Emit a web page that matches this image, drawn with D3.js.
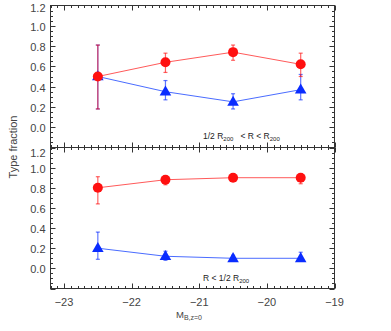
<!DOCTYPE html>
<html><head><meta charset="utf-8">
<script src="https://cdn.jsdelivr.net/npm/d3@7"></script>
<style>body{margin:0;background:#fff}svg{display:block}</style>
</head><body>
<svg id="c" width="391" height="331"></svg>
<script>
const mags = [-22.5, -21.5, -20.5, -19.5];
// outer region: 1/2 R200 < R < R200
const outerRed = [0.50, 0.64, 0.74, 0.62];
const outerRedLo = [0.18, 0.54, 0.66, 0.50];
const outerRedHi = [0.81, 0.73, 0.81, 0.73];
const outerBlue = [0.50, 0.35, 0.25, 0.37];
const outerBlueLo = [0.18, 0.27, 0.18, 0.27];
const outerBlueHi = [0.81, 0.46, 0.33, 0.52];
// inner region: R < 1/2 R200
const innerRed = [0.80, 0.88, 0.90, 0.90];
const innerRedLo = [0.64, 0.83, 0.87, 0.84];
const innerRedHi = [0.91, 0.91, 0.92, 0.92];
const innerBlue = [0.20, 0.12, 0.10, 0.10];
const innerBlueLo = [0.09, 0.08, 0.08, 0.07];
const innerBlueHi = [0.36, 0.17, 0.13, 0.16];
const xTicks = [-23, -22, -21, -20, -19];
const yTicks = [0.0, 0.2, 0.4, 0.6, 0.8, 1.0, 1.2];

const svg = d3.select("#c");
const L = 50.5, R = 334.5, T = 5.5, M = 147.5, B = 288.5;
const axisCol = "#333";
const x = d3.scaleLinear().domain([-23.2, -19]).range([L, R]);
const panels = [
  {top: T, bot: M, red: outerRed, redLo: outerRedLo, redHi: outerRedHi, blue: outerBlue, blueLo: outerBlueLo, blueHi: outerBlueHi, label: "outer"},
  {top: M, bot: B, red: innerRed, redLo: innerRedLo, redHi: innerRedHi, blue: innerBlue, blueLo: innerBlueLo, blueHi: innerBlueHi, label: "inner"}
];
const font = "'Liberation Sans', Arial, sans-serif";

panels.forEach((p, pi) => {
  const y = d3.scaleLinear().domain([-0.2, 1.2]).range([p.bot, p.top]);
  const g = svg.append("g");
  g.append("rect").attr("x", L).attr("y", p.top).attr("width", R - L).attr("height", p.bot - p.top)
    .attr("fill", "none").attr("stroke", axisCol).attr("stroke-width", 1);
  const yMinor = d3.range(-0.2, 1.2001, 0.05);
  yMinor.forEach(v => {
    const major = Math.abs(Math.round(v * 5) - v * 5) < 1e-6;
    const len = major ? 5 : 2.5;
    const yy = Math.round(y(v)) + 0.5;
    g.append("line").attr("x1", L).attr("x2", L + len).attr("y1", yy).attr("y2", yy).attr("stroke", axisCol);
    g.append("line").attr("x1", R).attr("x2", R - len).attr("y1", yy).attr("y2", yy).attr("stroke", axisCol);
  });
  const xMinor = d3.range(-23.2, -18.999, 0.1);
  xMinor.forEach(v => {
    const major = Math.abs(Math.round(v) - v) < 1e-6;
    const len = major ? 5 : 2.5;
    const xx = Math.round(x(v)) + 0.5;
    g.append("line").attr("x1", xx).attr("x2", xx).attr("y1", p.bot).attr("y2", p.bot - len).attr("stroke", axisCol);
    g.append("line").attr("x1", xx).attr("x2", xx).attr("y1", p.top).attr("y2", p.top + len).attr("stroke", axisCol);
  });
  yTicks.forEach(v => {
    let yy = y(v) + 1;
    if (v === 1.2) yy += pi === 0 ? 2 : 5;
    g.append("text").attr("x", L - 5).attr("y", yy).attr("dy", "0.36em").attr("text-anchor", "end")
      .attr("font-family", font).attr("font-size", 11).attr("fill", "#444").text(v.toFixed(1));
  });

  const series = [
    {v: p.blue, lo: p.blueLo, hi: p.blueHi, line: "#4a6cff", col: "#0a2cff", mark: "tri"},
    {v: p.red, lo: p.redLo, hi: p.redHi, line: "#ff5a5a", col: "#ff1010", mark: "circ"}
  ];
  series.forEach(s => {
    mags.forEach((m, i) => {
      const xx = x(m);
      g.append("line").attr("x1", xx).attr("x2", xx).attr("y1", y(s.lo[i])).attr("y2", y(s.hi[i]))
        .attr("stroke", s.col).attr("stroke-opacity", 0.65).attr("stroke-width", 1.2);
      [s.lo[i], s.hi[i]].forEach(e => {
        g.append("line").attr("x1", xx - 2).attr("x2", xx + 2).attr("y1", y(e)).attr("y2", y(e))
          .attr("stroke", s.col).attr("stroke-opacity", 0.65).attr("stroke-width", 1.2);
      });
    });
    g.append("path").datum(s.v).attr("fill", "none").attr("stroke", s.line).attr("stroke-width", 1)
      .attr("d", d3.line().x((d, i) => x(mags[i])).y(d => y(d)));
  });
  mags.forEach((m, i) => {
    g.append("path").attr("d", d3.symbol().type(d3.symbolTriangle).size(58)())
      .attr("transform", `translate(${x(m)},${y(p.blue[i]) + 0.5})`).attr("fill", "#0a2cff");
  });
  mags.forEach((m, i) => {
    g.append("circle").attr("cx", x(m)).attr("cy", y(p.red[i])).attr("r", 5).attr("fill", "#ff1010");
  });

  const t = g.append("text").attr("font-family", font).attr("font-size", 8.5).attr("fill", "#222");
  if (p.label === "outer") {
    t.attr("x", 203).attr("y", 139);
    t.append("tspan").text("1/2 R");
    t.append("tspan").attr("font-size", 6).attr("dy", 2).text("200");
    t.append("tspan").attr("dy", -2).text("\u00a0\u00a0\u00a0< R < R");
    t.append("tspan").attr("font-size", 6).attr("dy", 2).text("200");
  } else {
    t.attr("x", 203).attr("y", 280.5);
    t.append("tspan").text("R < 1/2 R");
    t.append("tspan").attr("font-size", 6).attr("dy", 2).text("200");
  }
});

xTicks.forEach(v => {
  svg.append("text").attr("x", x(v)).attr("y", 306).attr("text-anchor", "middle")
    .attr("font-family", font).attr("font-size", 11).attr("fill", "#444").text("\u2212" + Math.abs(v));
});
const xt = svg.append("text").attr("x", 176).attr("y", 318).attr("font-family", font).attr("font-size", 9.5).attr("fill", "#444");
xt.append("tspan").text("M");
xt.append("tspan").attr("font-size", 7).attr("dy", 2).text("B,z=0");
svg.append("text").attr("transform", "translate(17,147) rotate(-90)").attr("text-anchor", "middle")
  .attr("font-family", font).attr("font-size", 11).attr("fill", "#444").text("Type fraction");
</script>
</body></html>
